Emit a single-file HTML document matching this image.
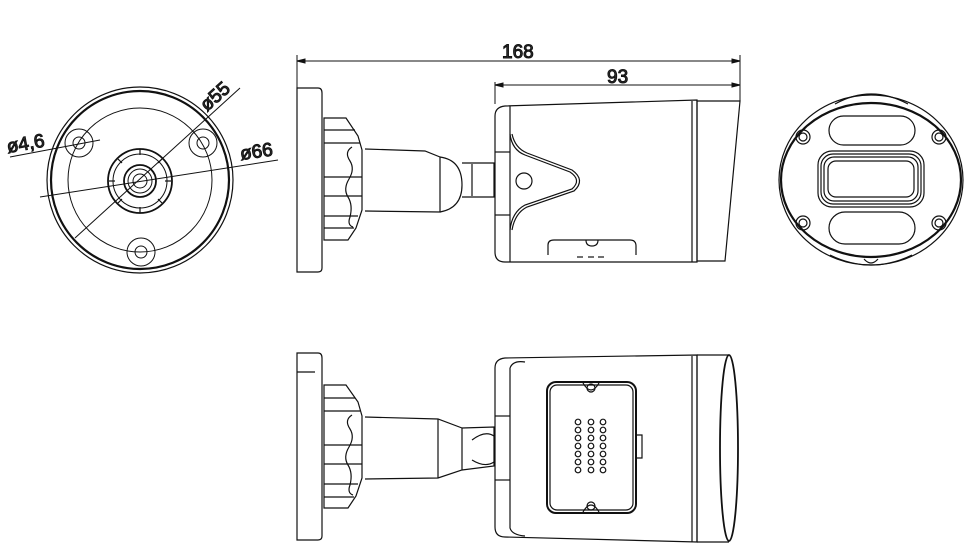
<!DOCTYPE html>
<html><head><meta charset="utf-8"><style>
html,body{margin:0;padding:0;background:#fff;width:971px;height:559px;overflow:hidden}
svg{display:block}
text{font-family:"Liberation Sans Narrow","Liberation Sans",sans-serif;font-size:19px;fill:#333;font-weight:normal}
</style></head><body>
<svg width="971" height="559" viewBox="0 0 971 559" fill="none" stroke="#111" stroke-width="1">
<g>
<circle cx="140" cy="180" r="93" stroke-width="1.2"/>
<circle cx="140" cy="180" r="89" stroke-width="2.2"/>
<circle cx="140" cy="180" r="72"/>
<circle cx="140" cy="181" r="32" stroke-width="1.8"/>
<circle cx="140" cy="181" r="27"/>
<circle cx="140" cy="181" r="16" stroke-width="1.8"/>
<circle cx="140" cy="181" r="12"/>
<circle cx="140" cy="181" r="7"/>
<g stroke-width="1.2">
<line x1="140" y1="149" x2="140" y2="155"/><line x1="140" y1="207" x2="140" y2="213"/>
<line x1="109" y1="181" x2="115" y2="181"/><line x1="165" y1="181" x2="171" y2="181"/>
<line x1="118" y1="159" x2="122" y2="163"/><line x1="158" y1="199" x2="162" y2="203"/>
<line x1="118" y1="203" x2="122" y2="199"/><line x1="158" y1="163" x2="162" y2="159"/>
</g>
<circle cx="79" cy="143" r="14"/><circle cx="79" cy="143" r="6"/>
<circle cx="203" cy="143" r="14"/><circle cx="203" cy="143" r="6"/>
<circle cx="141" cy="252" r="14"/><circle cx="141" cy="252" r="6"/>
<line x1="40" y1="197" x2="278" y2="160"/>
<line x1="75" y1="238" x2="240" y2="88"/>
<line x1="10" y1="157" x2="100" y2="140"/>
<text x="8" y="153" transform="rotate(-10 8 153)">ø4,6</text>
<text x="207" y="112" transform="rotate(-42 207 112)">ø55</text>
<text x="241" y="160" transform="rotate(-8 241 160)">ø66</text>
</g>

<line x1="297" y1="61" x2="740" y2="61"/>
<line x1="297" y1="55" x2="297" y2="88"/>
<line x1="740" y1="55" x2="740" y2="102"/>
<line x1="495" y1="85" x2="740" y2="85"/>
<line x1="495" y1="82" x2="495" y2="104"/>
<path d="M297 61 l8 -2 v4 z M740 61 l-8 -2 v4 z M495 85 l8 -2 v4 z M740 85 l-8 -2 v4 z" fill="#111"/>
<text x="502" y="58">168</text>
<text x="607" y="83">93</text>

<g stroke-width="1.2">
<path d="M297 88 H318 Q322 88 322 93 V268 Q322 272 318 272 H297 Z"/>
<path d="M324 118 H346 L358 136 L362 150 V210 L356 228 L348 240 H324 Z"/>
<line x1="324" y1="130" x2="355" y2="130"/><line x1="324" y1="143" x2="360" y2="143"/>
<line x1="324" y1="177" x2="362" y2="177"/><line x1="324" y1="196" x2="362" y2="196"/>
<line x1="324" y1="216" x2="358" y2="216"/><line x1="324" y1="228" x2="354" y2="228"/>
<path d="M352 147 q-8 5 -2 14 q5 8 -1 18 q-6 10 -1 18 q5 8 2 20 q-3 8 3 10"/>
<path d="M365 149 L425 151 L440 157 L440 212 L365 211"/>
<path d="M440 157 Q462 160 462 185 Q462 208 440 212"/>
<path d="M462 163 H494 V197 H462"/><line x1="472" y1="164" x2="472" y2="196"/>
<path d="M505 106 L697 100 V262 L505 262 Q495 262 495 252 V116 Q495 107 505 106 Z"/>
<path d="M510 106 V262"/><line x1="495" y1="152" x2="510" y2="152"/><line x1="495" y1="215" x2="510" y2="215"/>
<path d="M510 134 Q512 150 525 155 L570 172 Q582 180 572 189 L525 205 Q512 212 510 230"/>
<path d="M512 134 Q515 148 527 153 L572 170 Q586 180 574 191 L527 207 Q515 213 512 230"/>
<circle cx="524" cy="181" r="8"/>
<path d="M548 255 V245 Q548 240 554 240 H630 Q636 240 636 246 V255"/>
<path d="M586 240 q0 6 6 6 q6 0 6 -6"/>
<line x1="577" y1="257" x2="583" y2="257"/><line x1="588" y1="257" x2="594" y2="257"/><line x1="598" y1="257" x2="604" y2="257"/>
<line x1="692" y1="101" x2="692" y2="262"/>
<path d="M697 101 H740 L725 261 H697 Z"/>
</g>

<g stroke-width="1.2">
<path d="M297 353 H318 Q322 353 322 358 V536 Q322 540 318 540 H297 Z"/>
<path d="M297 372 L315 372"/>
<path d="M324 385 H346 L358 402 L362 416 V478 L356 496 L348 508 H324 Z"/>
<line x1="324" y1="398" x2="355" y2="398"/><line x1="324" y1="411" x2="360" y2="411"/>
<line x1="324" y1="445" x2="362" y2="445"/><line x1="324" y1="464" x2="362" y2="464"/>
<line x1="324" y1="484" x2="358" y2="484"/><line x1="324" y1="497" x2="354" y2="497"/>
<path d="M352 415 q-8 5 -2 14 q5 8 -1 18 q-6 10 -1 18 q5 8 2 20 q-3 8 3 10"/>
<path d="M365 417 L438 419 L462 428 L462 470 L438 478 L365 479"/>
<line x1="438" y1="419" x2="438" y2="478"/>
<path d="M462 428 L494 427 V466 L462 470"/>
<path d="M472 440 Q485 430 494 436 M472 460 Q485 468 494 462"/>
<path d="M505 358 L697 355 V542 L505 537 Q495 537 495 527 V368 Q495 359 505 358 Z"/>
<path d="M510 368 Q513 360 525 362 M510 368 V528 Q512 535 525 536"/>
<line x1="495" y1="416" x2="510" y2="416"/><line x1="495" y1="480" x2="510" y2="480"/>
<line x1="692" y1="356" x2="692" y2="542"/>
<rect x="547" y="382" width="89" height="131" rx="9" stroke-width="2"/>
<rect x="550" y="385" width="83" height="125" rx="7"/>
<circle cx="591" cy="388" r="4"/><circle cx="591" cy="506" r="4"/>
<path d="M583 383 q8 14 16 0 M583 512 q8 -14 16 0"/>
<path d="M636 435 H642 V458 H636"/>
<g>
<circle cx="578" cy="422" r="2.8"/><circle cx="591" cy="422" r="2.8"/><circle cx="603" cy="422" r="2.8"/>
<circle cx="578" cy="430" r="2.8"/><circle cx="591" cy="430" r="2.8"/><circle cx="603" cy="430" r="2.8"/>
<circle cx="578" cy="438" r="2.8"/><circle cx="591" cy="438" r="2.8"/><circle cx="603" cy="438" r="2.8"/>
<circle cx="578" cy="446" r="2.8"/><circle cx="591" cy="446" r="2.8"/><circle cx="603" cy="446" r="2.8"/>
<circle cx="578" cy="454" r="2.8"/><circle cx="591" cy="454" r="2.8"/><circle cx="603" cy="454" r="2.8"/>
<circle cx="578" cy="462" r="2.8"/><circle cx="591" cy="462" r="2.8"/><circle cx="603" cy="462" r="2.8"/>
<circle cx="578" cy="470" r="2.8"/><circle cx="591" cy="470" r="2.8"/><circle cx="603" cy="470" r="2.8"/>
</g>
<path d="M697 355 H729 M697 542 H729 M697 355 V542"/>
<ellipse cx="729" cy="448" rx="9" ry="93" stroke-width="1.8"/>
</g>

<g stroke-width="1.2">
<ellipse cx="871" cy="180" rx="92" ry="85"/>
<ellipse cx="871" cy="180" rx="90" ry="77" stroke-width="2.2"/>
<path d="M835 104 Q871 84 908 104"/>
<path d="M830 255 Q871 275 912 255"/>
<path d="M864 259 q7 8 14 0"/>
<rect x="829" y="116" width="86" height="29" rx="14.5"/>
<rect x="829" y="212" width="86" height="32" rx="16"/>
<rect x="818" y="151" width="106" height="56" rx="14"/>
<rect x="821" y="154" width="100" height="50" rx="12"/>
<rect x="824" y="157" width="94" height="44" rx="10"/>
<rect x="828" y="161" width="86" height="36" rx="8"/>
<circle cx="803" cy="137" r="7"/><circle cx="803" cy="137" r="4"/>
<circle cx="939" cy="137" r="7"/><circle cx="939" cy="137" r="4"/>
<circle cx="803" cy="223" r="7"/><circle cx="803" cy="223" r="4"/>
<circle cx="939" cy="223" r="7"/><circle cx="939" cy="223" r="4"/>
</g>
</svg>
</body></html>
